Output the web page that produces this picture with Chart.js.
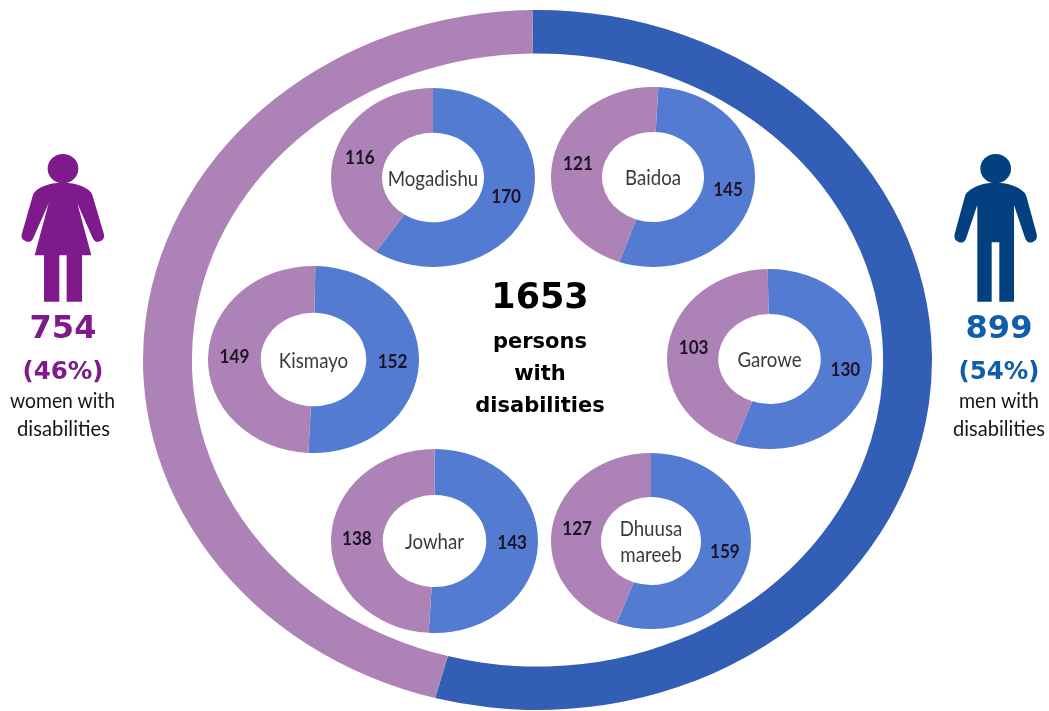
<!DOCTYPE html>
<html>
<head>
<meta charset="utf-8">
<script src="https://cdn.jsdelivr.net/npm/chart.js@4/dist/chart.umd.min.js"></script>
<style>
  html, body { margin: 0; padding: 0; background: #fff; }
  #stage { position: relative; width: 1049px; height: 711px; overflow: hidden; filter: blur(0.45px); }
  #stage canvas { position: absolute; }
  #overlay { position: absolute; left: 0; top: 0; }
  #overlay text { text-anchor: middle; }
  .big { font-family: "DejaVu Sans"; font-weight: bold; }
  .small { font-family: "Lato"; font-size: 22px; fill: #151515; }
</style>
</head>
<body>
<div id="stage">
  <svg id="overlay" width="1049" height="711" viewBox="0 0 1049 711">
    <g transform="translate(0,140) scale(0.3333)" fill="#7e1a8c">
      <ellipse cx="189" cy="86" rx="46" ry="44"/>
      <path d="M188 128 C155 128 128 136 110 150 Q102 156 98 168 L66 280 Q60 298 78 304 Q92 310 100 294 L146 190 L104 346 L132 346 L132 485 L178 485 L178 346 L200 346 L200 485 L246 485 L246 346 L274 346 L232 190 L278 294 Q286 310 300 304 Q316 298 311 280 L278 168 Q274 156 266 150 C248 136 221 128 188 128 Z"/>
    </g>
    <g transform="translate(930,140) scale(0.3333)" fill="#03407f">
      <ellipse cx="197" cy="86" rx="46" ry="44"/>
      <path d="M197 128 C165 128 138 136 120 150 Q110 156 105 168 L74 282 Q70 300 86 306 Q100 312 108 296 L142 195 L142 485 L185 485 L185 307 L208 307 L208 485 L252 485 L252 195 L286 296 Q294 312 308 306 Q324 300 320 282 L289 168 Q284 156 274 150 C256 136 229 128 197 128 Z"/>
    </g>
    <text class="big" x="63" y="338" font-size="32" fill="#7e1a8c">754</text>
    <text class="big" x="63" y="379" font-size="24.5" fill="#7e1a8c">(46%)</text>
    <text class="small" x="62.5" y="408" textLength="105" lengthAdjust="spacingAndGlyphs">women with</text>
    <text class="small" x="63.5" y="436" textLength="93" lengthAdjust="spacingAndGlyphs">disabilities</text>
    <text class="big" x="999" y="338" font-size="32" fill="#0f5dab">899</text>
    <text class="big" x="999" y="379" font-size="24.5" fill="#0f5dab">(54%)</text>
    <text class="small" x="999" y="408" textLength="80" lengthAdjust="spacingAndGlyphs">men with</text>
    <text class="small" x="999" y="436" textLength="92" lengthAdjust="spacingAndGlyphs">disabilities</text>
    <text class="big" x="540" y="308" font-size="35" fill="#000">1653</text>
    <text class="big" x="540" y="348" font-size="21" fill="#000">persons</text>
    <text class="big" x="540" y="380" font-size="21" fill="#000">with</text>
    <text class="big" x="540" y="412" font-size="21" fill="#000">disabilities</text>
  </svg>
</div>
<script>
// values, men first then women (clockwise from the top)
const totalLabels = ['Men', 'Women'];
const totalValues = [899, 754];
const cities = ['Mogadishu', 'Baidoa', 'Kismayo', 'Garowe', 'Jowhar', 'Dhuusa mareeb'];
const menByCity = [170, 145, 152, 130, 143, 159];
const womenByCity = [116, 121, 149, 103, 138, 127];

// where the rings sit on the page; every ring is a squashed circle
const cityRings = [
    { cx: 433, cy: 177.5, rx: 102, ry: 89.5, turn: 0 },
    { cx: 653, cy: 177, rx: 102, ry: 90, turn: 3 },
    { cx: 313.5, cy: 359.5, rx: 105.5, ry: 93.5, turn: 1 },
    { cx: 769.5, cy: 359, rx: 102.5, ry: 90, turn: -1 },
    { cx: 434.5, cy: 541, rx: 103.5, ry: 92, turn: 0 },
    { cx: 651, cy: 541, rx: 100, ry: 88, turn: 0 }
];
const totalRing = { cx: 537.5, cy: 360, rx: 394.5, ry: 350, turn: -0.75 };

const blueOuter = '#325eb6';
const blueInner = '#547bd2';
const purple = '#ad82b6';

// stretches the round doughnut into an ellipse and writes the labels on it
const ellipsePlugin = {
    id: 'ellipse',
    beforeDatasetsDraw(chart) {
        const { ctx, width, height } = chart;
        ctx.save();
        ctx.translate(width / 2, height / 2);
        ctx.scale(width / height, 1);
        ctx.translate(-width / 2, -height / 2);
    },
    afterDatasetsDraw(chart, args, opts) {
        const { ctx, width, height } = chart;
        ctx.restore();
        if (!opts.name) return;

        ctx.save();
        ctx.textAlign = 'center';
        ctx.textBaseline = 'middle';

        // value labels sit in the middle of each arc
        const squash = width / height;
        ctx.font = '700 18px Lato';
        ctx.fillStyle = '#1c1424';
        chart.getDatasetMeta(0).data.forEach((arc, i) => {
            const p = arc.tooltipPosition();
            ctx.save();
            ctx.translate(width / 2 + (p.x - width / 2) * squash, p.y);
            ctx.scale(0.95, 1);
            ctx.fillText(chart.data.datasets[0].data[i], 0, 0);
            ctx.restore();
        });

        // city name in the hole, on two lines if it has two words
        ctx.font = '21px Lato';
        ctx.fillStyle = '#3a3a3a';
        const lines = opts.name.split(' ');
        lines.forEach((line, i) => {
            ctx.save();
            ctx.translate(width / 2, height / 2 + 1.5 + (i - (lines.length - 1) / 2) * 26);
            ctx.scale(0.89, 1);
            ctx.fillText(line, 0, 0);
            ctx.restore();
        });
        ctx.restore();
    }
};

function drawRing(ring, labels, values, colors, cutout, name) {
    const canvas = document.createElement('canvas');
    canvas.width = ring.rx * 2;
    canvas.height = ring.ry * 2;
    canvas.style.left = (ring.cx - ring.rx) + 'px';
    canvas.style.top = (ring.cy - ring.ry) + 'px';
    document.getElementById('stage').insertBefore(canvas, document.getElementById('overlay'));
    return new Chart(canvas, {
        type: 'doughnut',
        data: { labels: labels, datasets: [{ data: values, backgroundColor: colors, borderWidth: 0, hoverOffset: 0 }] },
        options: {
            responsive: false,
            animation: false,
            cutout: cutout,
            rotation: ring.turn,
            events: [],
            plugins: {
                legend: { display: false },
                tooltip: { enabled: false },
                ellipse: { name: name }
            }
        },
        plugins: [ellipsePlugin]
    });
}

drawRing(totalRing, totalLabels, totalValues, [blueOuter, purple], '87.6%', '');
cities.forEach((city, i) => {
    drawRing(cityRings[i], ['Men', 'Women'], [menByCity[i], womenByCity[i]], [blueInner, purple], '50%', city);
});
</script>
</body>
</html>
